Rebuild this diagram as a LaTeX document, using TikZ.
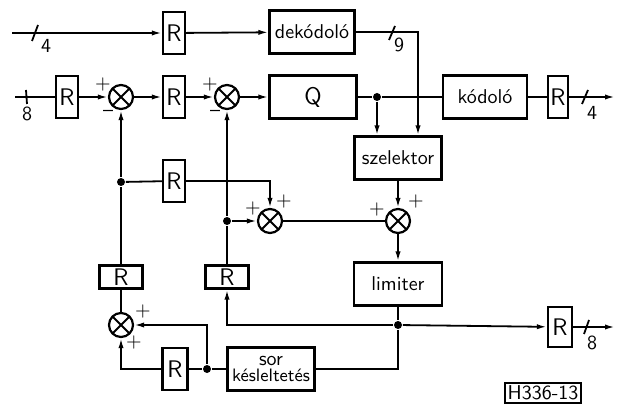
\documentclass[tikz,border=0pt]{standalone}
\usepackage{tikz}
\usetikzlibrary{arrows.meta}

\begin{document}
\begin{tikzpicture}[x=0.5pt,y=-0.5pt,>={Latex[length=5pt,width=2.6pt]},line width=0.9pt,
  rbox/.style={draw,line width=1.1pt,minimum width=11pt,minimum height=21pt,inner sep=0pt,font=\sffamily\large},
  rflat/.style={rbox,minimum width=21.5pt,minimum height=11.5pt},
  blk/.style={draw,line width=1.1pt,minimum width=43.5pt,minimum height=21.5pt,inner sep=1pt,font=\sffamily,align=center},
  sum/.style={circle,draw,line width=1.1pt,minimum size=12pt,inner sep=0pt,
    path picture={\draw[line width=0.9pt] (path picture bounding box.north west)--(path picture bounding box.south east)
      (path picture bounding box.north east)--(path picture bounding box.south west);}},
  dot/.style={circle,fill,inner sep=0pt,minimum size=4pt},
  sgn/.style={font=\sffamily,inner sep=0pt}]
  \useasboundingbox (0,0) rectangle (625,405);

  \coordinate (in1) at (12,33);
  \node[rbox] (rA) at (174,33) {R};
  \node[blk,minimum width=42.5pt] (dek) at (312,32) {dekódoló};

  \coordinate (in2) at (15,97);
  \node[rbox] (rB) at (67,97) {R};
  \node[sum] (sum1) at (121,97) {};
  \node[rbox] (rC) at (174,97) {R};
  \node[sum] (sum2) at (227,97) {};
  \node[blk,font=\sffamily\large] (q) at (313,97) {Q};
  \node[dot] (dot1) at (377,97) {};
  \node[blk,minimum width=42pt] (kod) at (485,97) {kódoló};
  \node[rbox,minimum width=10pt] (rD) at (558,97) {R};
  \coordinate (out1) at (615,97);

  \node[blk] (sel) at (398,158) {szelektor};
  \node[dot] (dot4) at (121,182) {};
  \node[rbox] (rH) at (174,181) {R};
  \node[dot] (dot3) at (227,221) {};
  \node[sum] (sum4) at (270,221) {};
  \node[sum] (sum3) at (398,221) {};
  \node[blk,minimum width=44pt] (lim) at (398,284) {limiter};

  \node[rflat] (rG) at (121,277) {R};
  \node[rflat] (rF) at (227,277) {R};
  \node[sum] (sum5) at (121,325) {};
  \node[dot] (dot2) at (398,325) {};
  \node[rbox,minimum width=12pt,minimum height=20pt] (rE) at (560,327) {R};
  \coordinate (out2) at (615,327);

  \node[rbox,minimum width=12.5pt] (rI) at (175,369) {R};
  \node[dot] (dot5) at (207,369) {};
  \node[blk,inner sep=0pt,font=\sffamily\small] (delay) at (271,369) {{\normalsize sor}\\[-3pt]késleltetés};

  \node[draw,line width=1pt,font=\sffamily,inner sep=1.5pt] (tag) at (543,393) {H336-13};

  \draw[->] (in1) -- (rA);
  \draw[->] (rA) -- (dek);
  \draw[->] (dek.east) -| ([xshift=10pt]sel.north);
  \draw (in2) -- (rB);
  \draw[->] (rB) -- (sum1);
  \draw[->] (sum1) -- (rC);
  \draw[->] (rC) -- (sum2);
  \draw[->] (sum2) -- (q);
  \draw (q) -- (dot1);
  \draw (dot1) -- (kod);
  \draw (kod) -- (rD);
  \draw[->] (rD) -- (out1);
  \draw[->] (dot1) -- (dot1 |- sel.north);
  \draw[->] (sel) -- (sum3);
  \draw[->] (sum3) -- (lim);
  \draw (sum4) -- (sum3);
  \draw (lim) -- (dot2);
  \draw[->] (dot2) -- (rE);
  \draw[->] (rE) -- (out2);
  \draw[->] (dot2) -| (rF);
  \draw (rF) -- (dot3);
  \draw[->] (dot3) -- (sum2);
  \draw[->] (dot3) -- (sum4);
  \draw (dot2) |- (delay);
  \draw (delay) -- (dot5);
  \draw (dot5) -- (rI);
  \draw[->] (rI) -| (sum5);
  \draw[->] (dot5) |- (sum5);
  \draw (sum5) -- (rG);
  \draw (rG) -- (dot4);
  \draw[->] (dot4) -- (sum1);
  \draw (dot4) -- (rH);
  \draw[->] (rH) -| (sum4);

  \draw (32,41) -- (38,25);
  \node[sgn] at (46,46) {4};
  \draw (26,90) -- (27,104);
  \node[sgn] at (27,114) {8};
  \draw (389,40) -- (395,26);
  \node[sgn] at (399,45) {9};
  \draw (582,104) -- (588,90);
  \node[sgn] at (592,113) {4};
  \draw (584,334) -- (589,320);
  \node[sgn] at (592,343) {8};

  \node[sgn] at (103,85) {+};
  \node[sgn] at (108,113) {--};
  \node[sgn] at (210,85) {+};
  \node[sgn] at (215,113) {--};
  \node[sgn] at (253,209) {+};
  \node[sgn] at (284,202) {+};
  \node[sgn] at (377,210) {+};
  \node[sgn] at (416,202) {+};
  \node[sgn] at (143,311) {+};
  \node[sgn] at (134,342) {+};
\end{tikzpicture}
\end{document}
